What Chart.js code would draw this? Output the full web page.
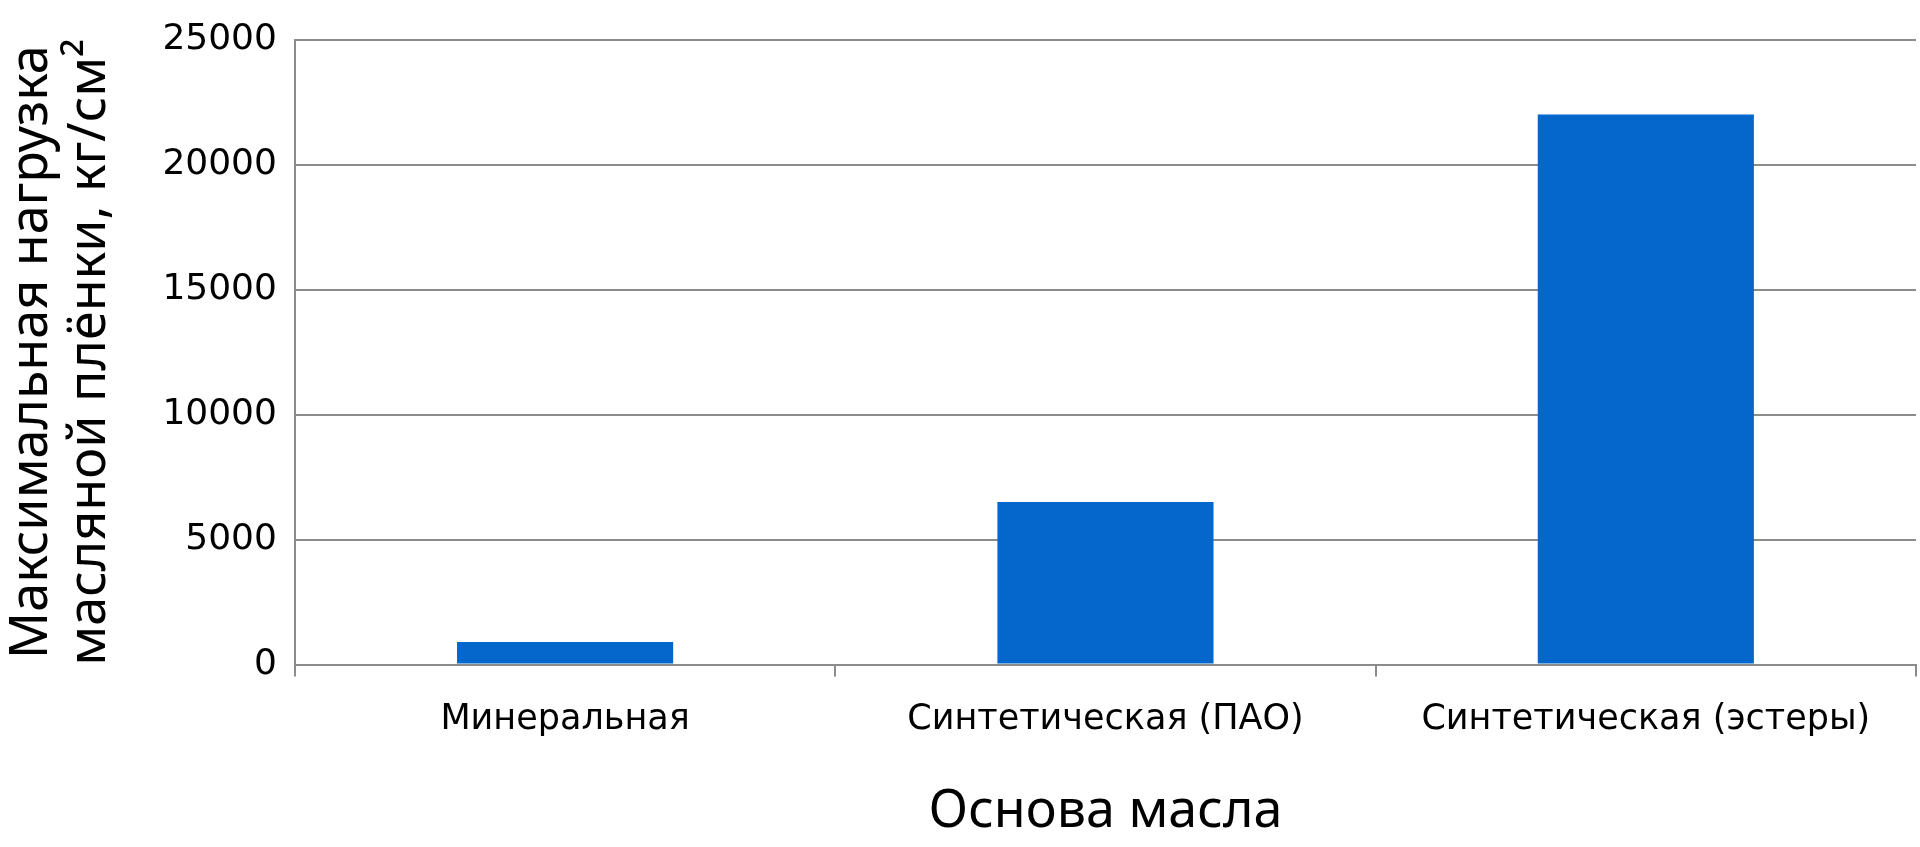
<!DOCTYPE html>
<html>
<head>
<meta charset="utf-8">
<script src="https://cdn.jsdelivr.net/npm/chart.js@4/dist/chart.umd.min.js"></script>
<style>
  html, body { margin: 0; padding: 0; background: #fff; }
  #wrap { width: 1920px; height: 847px; }
</style>
</head>
<body>
<div id="wrap"><canvas id="chart"></canvas></div>
<script>
const categories = ['Минеральная', 'Синтетическая (ПАО)', 'Синтетическая (эстеры)'];
const loads = [900, 6500, 22000];
const yTitle = ['Максимальная нагрузка', 'масляной плёнки, кг/см²'];
const xTitle = 'Основа масла';

const gridColor = '#8c8c8c';

new Chart(document.getElementById('chart'), {
  type: 'bar',
  data: {
    labels: categories,
    datasets: [{
      data: loads,
      backgroundColor: '#0566cc',
      barPercentage: 0.4,
      categoryPercentage: 1,
    }],
  },
  options: {
    responsive: true,
    maintainAspectRatio: false,
    animation: false,
    layout: { padding: { top: 17, right: 4, bottom: 0, left: 0 } },
    plugins: { legend: { display: false }, tooltip: { enabled: false } },
    scales: {
      x: {
        grid: { offset: true, drawOnChartArea: false, color: gridColor, lineWidth: 2, tickLength: 12 },
        border: { color: gridColor, width: 2 },
        ticks: { color: '#000', font: { family: 'DejaVu Sans', size: 35 }, padding: 22 },
        title: { display: true, text: xTitle, color: '#000', font: { family: 'Noto Sans', size: 52 }, padding: { top: 18 } },
      },
      y: {
        min: 0,
        max: 25000,
        ticks: { stepSize: 5000, color: '#000', font: { family: 'DejaVu Sans', size: 36 }, padding: 18,
                 callback: v => String(v) },
        grid: { color: gridColor, lineWidth: 2, tickLength: 0 },
        border: { color: gridColor, width: 2 },
        title: { display: true, text: yTitle, color: '#000', font: { family: 'Noto Sans', size: 52, lineHeight: 1.1 }, padding: { bottom: 26 } },
      },
    },
  },
});
</script>
</body>
</html>
